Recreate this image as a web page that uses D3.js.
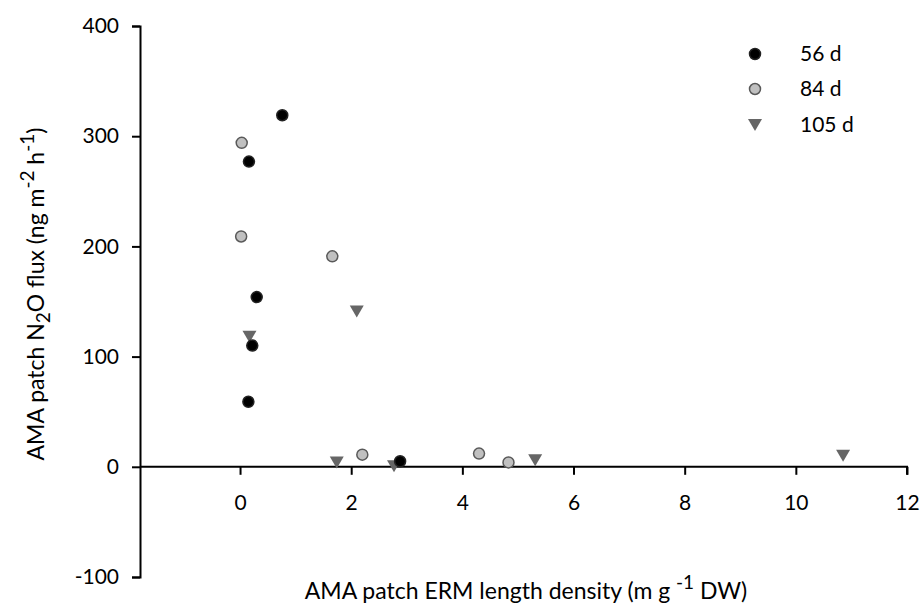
<!DOCTYPE html>
<html>
<head>
<meta charset="utf-8">
<script src="https://cdn.jsdelivr.net/npm/d3@7"></script>
<style>
  body { margin: 0; background: #fff; }
  text { font-family: Lato, "Open Sans", sans-serif; fill: #000; }
</style>
</head>
<body>
<div id="chart"></div>
<script>
  // Data: ERM length density (x) vs N2O flux (y)
  var seriesNames = ["56 d", "84 d", "105 d"];
  var x56 = [0.76, 0.16, 0.30, 0.22, 0.15, 2.88];
  var y56 = [319, 277, 154, 110, 59, 5];
  var x84 = [0.03, 0.02, 1.66, 2.20, 4.30, 4.83];
  var y84 = [294, 209, 191, 11, 12, 4];
  var x105 = [0.17, 2.10, 1.74, 2.77, 5.31, 10.85];
  var y105 = [118, 141, 4, 0.5, 6, 10];
  var xTicks = [0, 2, 4, 6, 8, 10, 12];
  var yTicks = [-100, 0, 100, 200, 300, 400];

  var width = 921, height = 606;
  var margin = { top: 26, right: 14, bottom: 29, left: 140 };

  var svg = d3.select("#chart").append("svg")
              .attr("width", width)
              .attr("height", height);

  var xScale = d3.scaleLinear()
                 .domain([-1.8, 12])
                 .range([margin.left, width - margin.right]);
  var yScale = d3.scaleLinear()
                 .domain([-100, 400])
                 .range([height - margin.bottom, margin.top]);

  var plainFormat = function(d) { return String(d); }; // keep hyphen minus like the original

  // y axis on the left edge
  var yAxis = d3.axisLeft(yScale).tickValues(yTicks).tickSize(8).tickPadding(13).tickFormat(plainFormat);
  var gy = svg.append("g")
     .attr("transform", "translate(" + xScale(-1.8) + ",0)")
     .call(yAxis);

  // x axis crosses at y = 0
  var xAxis = d3.axisBottom(xScale).tickValues(xTicks).tickSize(8).tickPadding(20).tickFormat(plainFormat);
  var gx = svg.append("g")
     .attr("transform", "translate(0," + yScale(0) + ")")
     .call(xAxis);

  [gx, gy].forEach(function(g) {
    g.selectAll("path").attr("stroke", "#000").attr("stroke-width", 2);
    g.selectAll("line").attr("stroke", "#000").attr("stroke-width", 2);
    g.selectAll("text").style("font-size", "21px").attr("fill", "#000");
  });
  gx.select(".domain").attr("d", "M" + xScale(-1.8) + ",0H" + xScale(12) + "V8");

  // marker drawing
  function drawCircles(xs, ys, fill, stroke) {
    svg.append("g").selectAll("circle")
       .data(xs.map(function(d, i) { return { x: d, y: ys[i] }; }))
       .enter()
       .append("circle")
       .attr("cx", function(d) { return xScale(d.x); })
       .attr("cy", function(d) { return yScale(d.y); })
       .attr("r", 5.5)
       .attr("fill", fill)
       .attr("stroke", stroke)
       .attr("stroke-width", 1.5);
  }

  var triangle = "M-7,-6L7,-6L0,6Z";

  drawCircles(x84, y84, "#c0c0c0", "#595959");
  svg.append("g").selectAll("path")
     .data(x105.map(function(d, i) { return { x: d, y: y105[i] }; }))
     .enter()
     .append("path")
     .attr("d", triangle)
     .attr("transform", function(d) { return "translate(" + xScale(d.x) + "," + yScale(d.y) + ")"; })
     .attr("fill", "#666666");
  drawCircles(x56, y56, "#000", "#222");

  // legend
  var legend = svg.append("g");
  var legendY = [54, 89, 125];
  seriesNames.forEach(function(name, i) {
    var g = legend.append("g").attr("transform", "translate(755," + legendY[i] + ")");
    if (i === 0) {
      g.append("circle").attr("r", 5.5).attr("fill", "#000").attr("stroke", "#222").attr("stroke-width", 1.5);
    } else if (i === 1) {
      g.append("circle").attr("r", 5.5).attr("fill", "#c0c0c0").attr("stroke", "#595959").attr("stroke-width", 1.5);
    } else {
      g.append("path").attr("d", triangle).attr("fill", "#666666");
    }
    g.append("text").attr("x", 45).attr("dy", "0.35em").style("font-size", "21px").text(name);
  });

  // axis titles
  var xt = svg.append("text")
     .attr("x", 526).attr("y", 599)
     .attr("text-anchor", "middle")
     .style("font-size", "23px");
  xt.append("tspan").text("AMA patch ERM length density (m g ");
  xt.append("tspan").attr("dy", -10).style("font-size", "19px").text("-1");
  xt.append("tspan").attr("dy", 10).text(" DW)");

  var yt = svg.append("text")
     .attr("transform", "translate(44,294) rotate(-90)")
     .attr("text-anchor", "middle")
     .style("font-size", "23px");
  yt.append("tspan").text("AMA patch N");
  yt.append("tspan").attr("dy", 6).style("font-size", "19px").text("2");
  yt.append("tspan").attr("dy", -6).text("O flux (ng m");
  yt.append("tspan").attr("dy", -10).style("font-size", "19px").text("-2");
  yt.append("tspan").attr("dy", 10).text(" h");
  yt.append("tspan").attr("dy", -10).style("font-size", "19px").text("-1");
  yt.append("tspan").attr("dy", 10).text(")");
</script>
</body>
</html>
